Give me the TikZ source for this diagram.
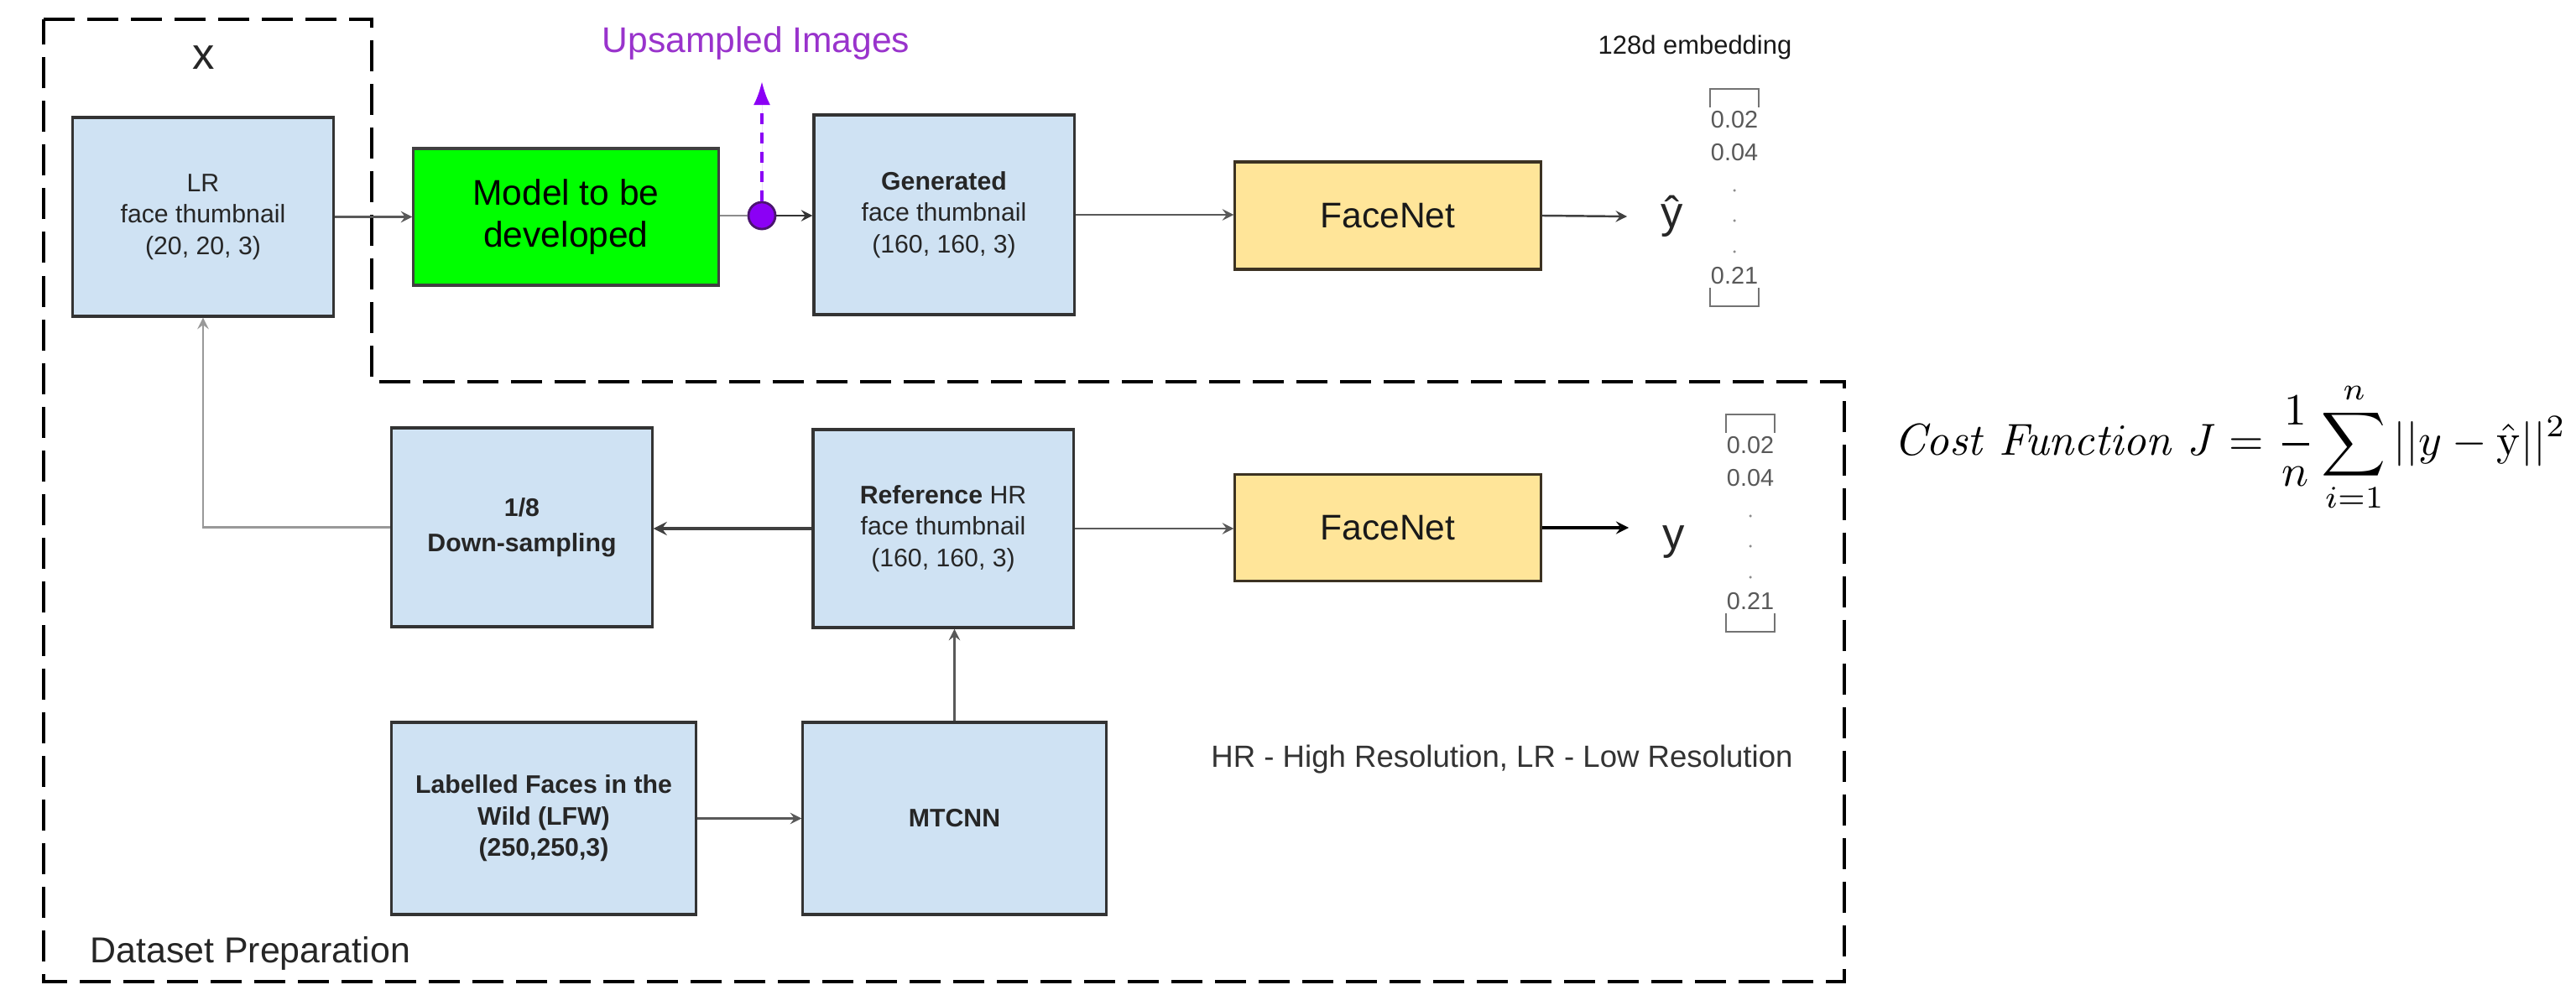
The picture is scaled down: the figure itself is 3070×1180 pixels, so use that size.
\documentclass[tikz,border=0pt]{standalone}
\usepackage[no-math]{fontspec}
\setmainfont{Liberation Sans}
\usepackage{amsmath}
\usepackage{graphicx}
\usetikzlibrary{arrows,arrows.meta}

\definecolor{boxblue}{HTML}{CFE2F3}
\definecolor{modelgreen}{HTML}{00FF00}
\definecolor{netyellow}{HTML}{FFE599}
\definecolor{netedge}{HTML}{3C3222}
\definecolor{uppurple}{HTML}{8B00F5}
\definecolor{upedge}{HTML}{4B1570}
\definecolor{textpurple}{HTML}{9933CC}

\begin{document}
\begin{tikzpicture}[>=stealth, x=0.01cm, y=-0.01cm,
  blockbox/.style={draw=black!80, line width=0.9pt, fill=boxblue, align=center,
    text=black!85, font=\fontsize{8.6}{10.6}\selectfont,
    minimum width=3.10cm, minimum height=2.37cm, inner sep=0pt},
  netbox/.style={draw=netedge, line width=0.9pt, fill=netyellow, text=black!90,
    font=\fontsize{12.1}{14.2}\selectfont,
    minimum width=3.64cm, minimum height=1.28cm, inner sep=0pt},
  letter/.style={font=\fontsize{15}{18}\selectfont, text=black!85, inner xsep=0.4cm, inner ysep=0pt},
  num/.style={font=\fontsize{8.2}{10}\selectfont, text=black!65, inner sep=0pt},
  bracket/.style={draw=black!55, line width=0.6pt},
  conn/.style={draw=black!65, line width=0.7pt},
  prep/.style={draw=black, line width=1.1pt, dash pattern=on 0.37cm off 0.15cm}]

  % The page
  \path [fill=white, use as bounding box] (0,0) rectangle (3070,1180);

  % The dataset preparation region, with the x part on top
  \draw [prep] (52,23) -- (443,23) -- (443,455) -- (2198,455)
    -- (2198,1170) -- (52,1170) -- cycle;
  \node [letter, inner xsep=0pt] (xlab) at (243,69) {x};
  \node [anchor=west, font=\fontsize{12.2}{14}\selectfont, text=black!85] (prep) at (95,1136) {Dataset Preparation};

  % The LR face thumbnail
  \node [blockbox] (lr) at (242,258.5) {LR\\face thumbnail\\(20, 20, 3)};
  % The model
  \node [draw=black!75, line width=0.9pt, fill=modelgreen, align=center,
    font=\fontsize{12.1}{14.2}\selectfont, minimum width=3.63cm,
    minimum height=1.63cm, inner sep=0pt] (model) at (674.5,258.5) {Model to be\\developed};
  % The upsampled images
  \node [circle, draw=upedge, line width=0.8pt, fill=uppurple, minimum size=0.32cm,
    inner sep=0pt] (up) at (908,257) {};
  \coordinate (uptip) at (908,97);
  \node [font=\fontsize{12.1}{14}\selectfont, text=textpurple] (upimg) at (901,52) {Upsampled Images};
  % The generated face thumbnail
  \node [blockbox, minimum height=2.38cm] (gen) at (1125,256) {\textbf{Generated}\\face thumbnail\\(160, 160, 3)};
  % FaceNet on the generated images
  \node [netbox] (fnet) at (1654,257) {FaceNet};
  \node [letter] (yhat) at (1993,258) {ŷ};
  \node [font=\fontsize{8.8}{10}\selectfont, text=black!90] (emb) at (2020,57) {128d embedding};

  % The reference HR face thumbnail
  \node [blockbox, minimum height=2.36cm] (ref) at (1124,630) {\textbf{Reference} HR\\face thumbnail\\(160, 160, 3)};
  % The down-sampling
  \node [blockbox, font=\fontsize{8.6}{12}\selectfont\bfseries] (down) at (622,628.5) {1/8\\Down-sampling};
  % FaceNet on the reference images
  \node [netbox, minimum height=1.27cm] (fnetb) at (1654,629) {FaceNet};
  \node [letter] (yy) at (1995,646) {y};
  % The LFW dataset and MTCNN
  \node [blockbox, font=\fontsize{8.6}{10.7}\selectfont\bfseries, minimum width=3.62cm,
    minimum height=2.29cm] (lfw) at (648,975.5) {Labelled Faces in the\\Wild (LFW)\\(250,250,3)};
  \node [blockbox, font=\fontsize{8.6}{10.6}\selectfont\bfseries, minimum width=3.61cm,
    minimum height=2.29cm] (mtcnn) at (1137.5,975.5) {MTCNN};
  \node [anchor=west, font=\fontsize{10.4}{12}\selectfont, text=black!80] (note) at (1431,905)
    {HR - High Resolution, LR - Low Resolution};

  % The two 128d embeddings
  \foreach \n/\cx/\cy in {hat/2067/106, ref/2086/494} {
    \draw [bracket] (\cx-29,\cy+22) -- (\cx-29,\cy) -- (\cx+29,\cy) -- (\cx+29,\cy+22);
    \draw [bracket] (\cx-29,\cy+237) -- (\cx-29,\cy+259) -- (\cx+29,\cy+259) -- (\cx+29,\cy+237);
    \node [num] (v\n1) at (\cx,\cy+37) {0.02};
    \node [num] (v\n2) at (\cx,\cy+76) {0.04};
    \foreach \d in {121,157,194}
      \fill [black!45] (\cx,\cy+\d) circle (0.5pt);
    \node [num] (v\n3) at (\cx,\cy+223) {0.21};
  }

  % The cost function
  \node [anchor=west, inner sep=0pt] (cost) at (2257,533)
    {\resizebox{8.0cm}{!}{$\displaystyle \mathit{Cost\ Function\ J} = \frac{1}{n}\sum_{i=1}^{n} ||y-\hat{\mathrm{y}}||^{2}$}};

  % Upper path
  \draw [conn, ->] (lr.east) -- (lr.east -| model.west);
  \draw [draw=black!45, line width=0.7pt] (model.east |- up) -- (up.west);
  \draw [conn, ->, draw=black!80] (up.east) -- (up -| gen.west);
  \draw [-{Latex[length=0.28cm, width=0.2cm]}, draw=uppurple, fill=uppurple, line width=1pt,
    dash pattern=on 0.13cm off 0.1cm] (up.north) -- (uptip);
  \draw [conn, ->] (gen.east) -- (gen.east -| fnet.west);
  \draw [conn, ->, draw=black!75] (fnet.east) -- (yhat.west);

  % Lower path
  \draw [conn, ->] (lfw.east) -- (mtcnn.west);
  \draw [conn, ->] (mtcnn.north) -- (mtcnn.north |- ref.south);
  \draw [->, draw=black!75, line width=1pt] (ref.west) -- (ref.west -| down.east);
  \draw [conn, ->] (ref.east) -- (ref.east -| fnetb.west);
  \draw [->, draw=black, line width=0.9pt] (fnetb.east) -- (fnetb.east -| yy.west);

  % Back to the LR thumbnail
  \draw [conn, ->, draw=black!40] (down.west) -- (down.west -| lr.south) -- (lr.south);
\end{tikzpicture}
\end{document}
